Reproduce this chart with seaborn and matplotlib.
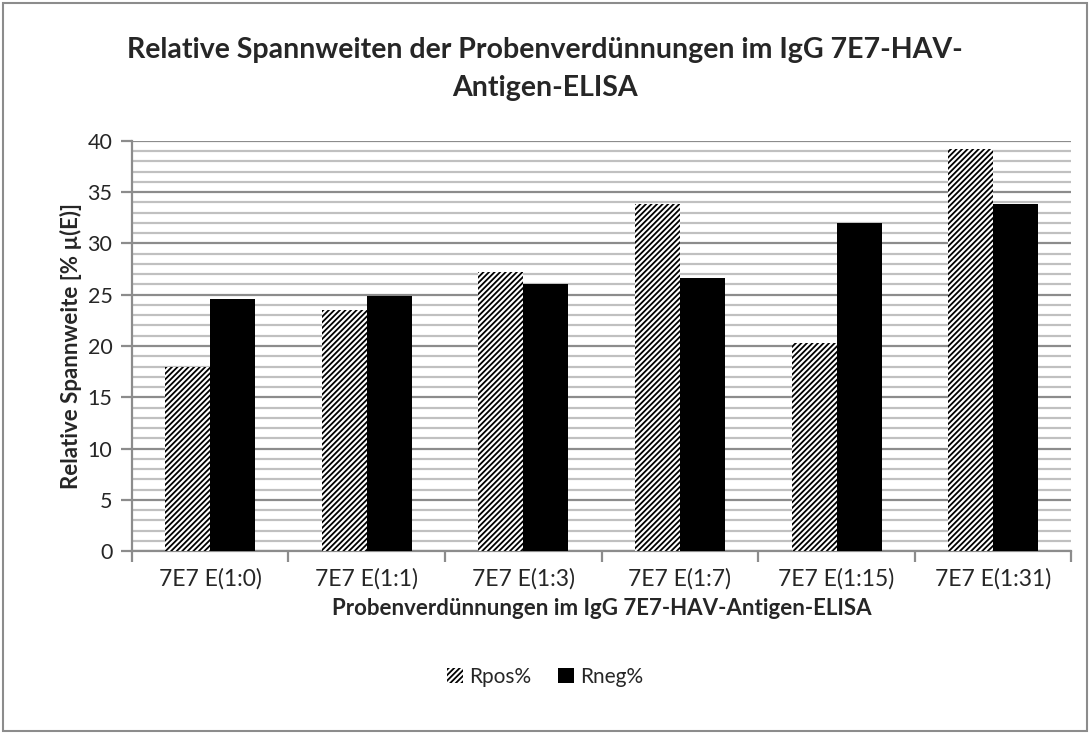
import numpy as np
import pandas as pd
import matplotlib as mpl
mpl.use("Agg")
import matplotlib.pyplot as plt
import seaborn as sns
from matplotlib.patches import Rectangle
from matplotlib.ticker import MultipleLocator, FixedLocator

categories = ["7E7 E(1:0)", "7E7 E(1:1)", "7E7 E(1:3)", "7E7 E(1:7)", "7E7 E(1:15)", "7E7 E(1:31)"]
rpos = [18.0, 23.5, 27.2, 33.8, 20.3, 39.2]
rneg = [24.6, 24.9, 26.0, 26.6, 32.0, 33.8]
series = ["Rpos%", "Rneg%"]

df = pd.DataFrame({
    "cat": categories * 2,
    "val": rpos + rneg,
    "series": [series[0]] * len(categories) + [series[1]] * len(categories),
})

sns.set_style("white")
plt.rcParams["font.family"] = ["Lato", "DejaVu Sans"]
plt.rcParams["hatch.linewidth"] = 1.3
plt.rcParams["hatch.color"] = "black"

fig = plt.figure(figsize=(10.9, 7.33), dpi=100)
ax = fig.add_axes([0.121, 0.248, 0.862, 0.560])

sns.barplot(data=df, x="cat", y="val", hue="series", order=categories,
            hue_order=series, palette=["white", "black"], width=0.575,
            saturation=1, ax=ax, legend=False, zorder=3)

# hatched Rpos, solid black Rneg
for p in ax.containers[0]:
    p.set_facecolor("white")
    p.set_edgecolor("black")
    p.set_hatch("//////")
    p.set_linewidth(0)
for p in ax.containers[1]:
    p.set_facecolor("black")
    p.set_edgecolor("black")
    p.set_linewidth(0)

ax.set_ylim(0, 40)
ax.set_xlim(-0.5, len(categories) - 0.5)
ax.yaxis.set_major_locator(MultipleLocator(5))
ax.yaxis.set_minor_locator(MultipleLocator(1))
ax.grid(axis="y", which="minor", color="#c0c0c0", linewidth=1.6, zorder=0)
ax.grid(axis="y", which="major", color="#8c8c8c", linewidth=1.6, zorder=0)
ax.set_axisbelow(True)

for s in ["top", "right"]:
    ax.spines[s].set_visible(False)
for s in ["left", "bottom"]:
    ax.spines[s].set_color("#8c8c8c")
    ax.spines[s].set_linewidth(1.6)

ax.tick_params(axis="y", which="major", direction="out", length=8, width=1.6,
               color="#8c8c8c", labelsize=15.5, pad=6, left=True)
ax.tick_params(axis="y", which="minor", length=0)
ax.xaxis.set_minor_locator(FixedLocator(np.arange(-0.5, len(categories), 1.0)))
ax.tick_params(axis="x", which="minor", direction="out", length=8, width=1.6,
               color="#8c8c8c", bottom=True)
ax.tick_params(axis="x", which="major", length=0, labelsize=16.5, pad=12)
ax.grid(axis="x", visible=False)

ax.set_xlabel("Probenverdünnungen im IgG 7E7-HAV-Antigen-ELISA",
              fontsize=16, fontweight="bold", labelpad=6)
ax.set_ylabel("Relative Spannweite [% µ(E)]", fontsize=16, fontweight="bold",
              labelpad=4)

fig.text(0.5, 0.906, "Relative Spannweiten der Probenverdünnungen im IgG 7E7-HAV-\nAntigen-ELISA",
         ha="center", va="center", fontsize=20.5, fontweight="bold", linespacing=1.6)

leg = fig.legend(ax.containers, series, loc="center", bbox_to_anchor=(0.5, 0.077),
                 ncol=2, frameon=False, fontsize=15, handlelength=0.75,
                 handleheight=0.75, handletextpad=0.3, columnspacing=1.3)

fig.add_artist(Rectangle((0.003, 0.003), 0.994, 0.993, transform=fig.transFigure,
                         fill=False, edgecolor="#8c8c8c", linewidth=1.5))

fig.savefig("out.png", dpi=100, facecolor="white")
